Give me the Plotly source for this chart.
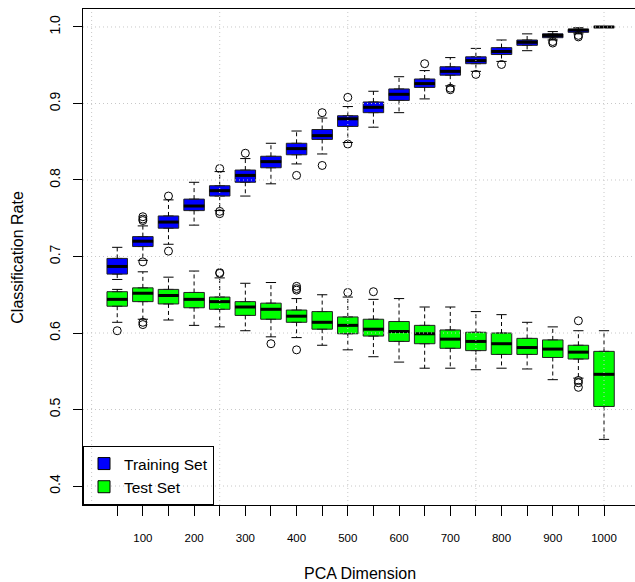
import plotly.graph_objects as go

# PCA dimensions evaluated (one box pair per dimension)
dims = [50, 100, 150, 200, 250, 300, 350, 400, 450, 500,
        550, 600, 650, 700, 750, 800, 850, 900, 950, 1000]

# Training-set classification rate: five-number summaries
train_lower = [0.670, 0.695, 0.716, 0.741, 0.760, 0.779, 0.795, 0.821, 0.834, 0.849,
               0.869, 0.888, 0.906, 0.923, 0.942, 0.955, 0.969, 0.983, 0.991, 1.000]
train_q1 = [0.677, 0.713, 0.737, 0.760, 0.779, 0.797, 0.816, 0.833, 0.853, 0.870,
            0.888, 0.904, 0.921, 0.937, 0.952, 0.964, 0.976, 0.986, 0.993, 1.000]
train_med = [0.687, 0.720, 0.745, 0.766, 0.786, 0.806, 0.824, 0.841, 0.858, 0.880,
             0.895, 0.912, 0.926, 0.942, 0.956, 0.968, 0.980, 0.989, 0.996, 1.000]
train_q3 = [0.6975, 0.726, 0.753, 0.775, 0.7925, 0.813, 0.831, 0.848, 0.866, 0.884,
            0.902, 0.919, 0.932, 0.948, 0.961, 0.973, 0.983, 0.991, 0.997, 1.000]
train_upper = [0.712, 0.740, 0.774, 0.797, 0.811, 0.828, 0.848, 0.864, 0.881, 0.896,
               0.916, 0.935, 0.943, 0.960, 0.972, 0.983, 0.991, 0.994, 0.999, 1.000]
train_out = [[], [0.693, 0.747, 0.749, 0.752], [0.707, 0.779], [], [0.756, 0.759, 0.815],
             [0.835], [], [0.806], [0.819, 0.888], [0.847, 0.908],
             [], [], [0.952], [0.918, 0.920], [0.938],
             [0.951], [], [0.979, 0.981], [0.987, 0.989], []]

# Test-set classification rate: five-number summaries
test_lower = [0.614, 0.618, 0.617, 0.610, 0.608, 0.603, 0.595, 0.594, 0.584, 0.578,
              0.569, 0.562, 0.554, 0.554, 0.552, 0.554, 0.553, 0.539, 0.541, 0.461]
test_q1 = [0.635, 0.641, 0.638, 0.633, 0.631, 0.623, 0.618, 0.614, 0.605, 0.599,
           0.596, 0.589, 0.586, 0.580, 0.577, 0.572, 0.572, 0.568, 0.566, 0.504]
test_med = [0.644, 0.652, 0.649, 0.644, 0.641, 0.634, 0.631, 0.622, 0.614, 0.610,
            0.605, 0.602, 0.599, 0.592, 0.589, 0.586, 0.581, 0.579, 0.575, 0.546]
test_q3 = [0.654, 0.659, 0.657, 0.653, 0.647, 0.641, 0.639, 0.630, 0.628, 0.621,
           0.618, 0.615, 0.610, 0.604, 0.601, 0.600, 0.593, 0.591, 0.584, 0.576]
test_upper = [0.657, 0.680, 0.673, 0.681, 0.672, 0.665, 0.666, 0.645, 0.650, 0.647,
              0.644, 0.645, 0.634, 0.634, 0.628, 0.624, 0.614, 0.608, 0.603, 0.603]
test_out = [[0.603], [0.611, 0.614], [], [], [0.678, 0.679],
            [], [0.586], [0.578, 0.656, 0.658, 0.661], [], [0.653],
            [0.654], [], [], [], [],
            [], [], [], [0.529, 0.535, 0.538, 0.616], []]

x_labels = [str(d) if d % 100 == 0 else "" for d in dims]
y_ticks = [0.4, 0.5, 0.6, 0.7, 0.8, 0.9, 1.0]

BOX_W = 0.8
CAP_W = 0.4
pos = list(range(1, len(dims) + 1))

fig = go.Figure()


def add_series(name, color, lower, q1, med, q3, upper, outliers):
    # filled boxes (whiskers are drawn separately, dashed, R style)
    fig.add_trace(go.Box(
        x=pos, q1=q1, median=med, q3=q3, lowerfence=q1, upperfence=q3,
        width=BOX_W, fillcolor=color, line=dict(color="#222222", width=1),
        showlegend=False, hoverinfo="skip", boxpoints=False,
    ))
    wx, wy, cx, cy, mx, my = [], [], [], [], [], []
    for p, lo, a, m, b, hi in zip(pos, lower, q1, med, q3, upper):
        wx += [p, p, None, p, p, None]
        wy += [b, hi, None, a, lo, None]
        cx += [p - CAP_W / 2, p + CAP_W / 2, None, p - CAP_W / 2, p + CAP_W / 2, None]
        cy += [hi, hi, None, lo, lo, None]
        mx += [p - BOX_W / 2, p + BOX_W / 2, None]
        my += [m, m, None]
    fig.add_trace(go.Scatter(x=wx, y=wy, mode="lines", showlegend=False, hoverinfo="skip",
                             line=dict(color="black", width=1, dash="4px,3px")))
    fig.add_trace(go.Scatter(x=cx, y=cy, mode="lines", showlegend=False, hoverinfo="skip",
                             line=dict(color="black", width=1)))
    fig.add_trace(go.Scatter(x=mx, y=my, mode="lines", showlegend=False, hoverinfo="skip",
                             line=dict(color="black", width=3)))
    ox, oy = [], []
    for p, vals in zip(pos, outliers):
        ox += [p] * len(vals)
        oy += vals
    fig.add_trace(go.Scatter(x=ox, y=oy, mode="markers", showlegend=False, hoverinfo="skip",
                             marker=dict(symbol="circle-open", size=8, color="black",
                                         line=dict(width=1))))
    # legend key
    fig.add_trace(go.Scatter(x=[None], y=[None], mode="markers", name=name,
                             marker=dict(symbol="square", size=12, color=color,
                                         line=dict(color="black", width=1))))


add_series("Training Set", "#0000FF", train_lower, train_q1, train_med, train_q3,
           train_upper, train_out)
add_series("Test Set", "#00FF00", test_lower, test_q1, test_med, test_q3,
           test_upper, test_out)

# dotted grid drawn on top of the boxes
grid_x = [0, 5, 10, 15, 20]
grid_line = dict(color="#c8c8c8", width=1, dash="1px,3px")
shapes = []
for gx in grid_x:
    shapes.append(dict(type="line", xref="x", yref="paper", x0=gx, x1=gx, y0=0, y1=1,
                       layer="above", line=grid_line))
for gy in y_ticks:
    shapes.append(dict(type="line", xref="paper", yref="y", x0=0, x1=1, y0=gy, y1=gy,
                       layer="above", line=grid_line))

font_family = "Liberation Sans, Arial, sans-serif"

fig.update_layout(
    width=635, height=582,
    margin=dict(l=83, r=0, t=9, b=77),
    paper_bgcolor="white", plot_bgcolor="white",
    boxmode="overlay",
    font=dict(family=font_family, color="black"),
    shapes=shapes,
    showlegend=True,
    legend=dict(x=0, y=0, xanchor="left", yanchor="bottom",
                bgcolor="rgba(0,0,0,0)", bordercolor="black", borderwidth=1,
                font=dict(size=15.5, family=font_family), itemsizing="trace"),
    annotations=[
        dict(text="PCA Dimension", xref="paper", yref="paper", x=0.502, y=-0.138,
             xanchor="center", yanchor="middle", showarrow=False,
             font=dict(size=16, family=font_family)),
        dict(text="Classification Rate", xref="paper", yref="paper", x=-0.1201, y=0.5,
             xanchor="center", yanchor="middle", textangle=-90, showarrow=False,
             font=dict(size=16, family=font_family)),
    ],
)

fig.update_xaxes(
    range=[-0.336, 21.21], tickmode="array", tickvals=pos, ticktext=x_labels,
    ticks="outside", ticklen=10, tickcolor="black", tickwidth=1,
    showline=True, linecolor="black", linewidth=1, mirror=True,
    showgrid=False, zeroline=False, automargin=False,
    tickfont=dict(size=11.5, family=font_family), ticklabelstandoff=12,
)
fig.update_yaxes(
    range=[0.3752, 1.0235], tickmode="array", tickvals=y_ticks,
    ticktext=[f"{v:.1f}" for v in y_ticks], tickangle=-90,
    ticks="outside", ticklen=9, tickcolor="black", tickwidth=1,
    showline=True, linecolor="black", linewidth=1,
    showgrid=False, zeroline=False, automargin=False,
    tickfont=dict(size=14, family=font_family), ticklabelstandoff=7,
)

fig.write_html("out.html")
